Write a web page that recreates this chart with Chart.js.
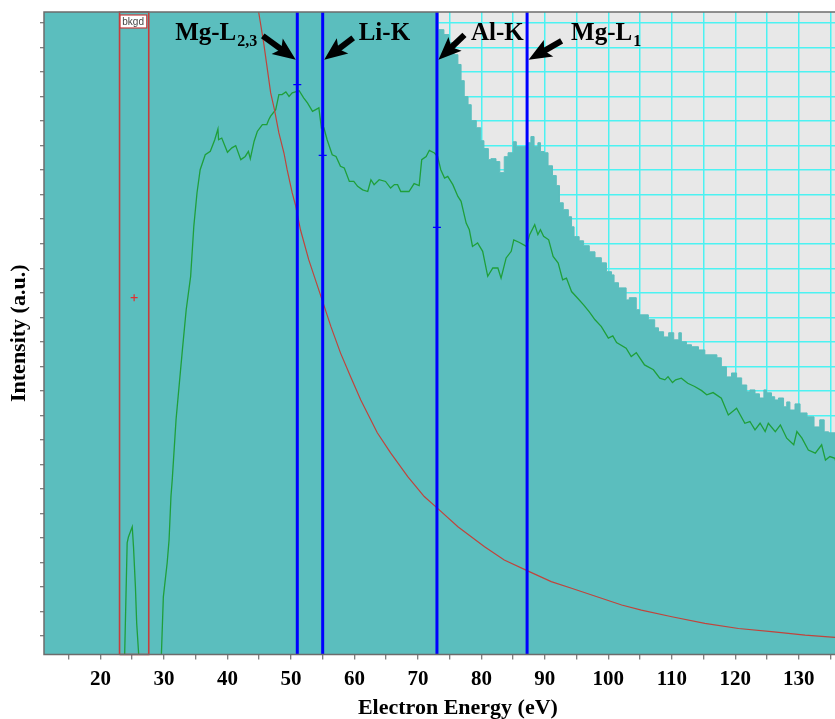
<!DOCTYPE html>
<html>
<head>
<meta charset="utf-8">
<title>EELS spectrum</title>
<script src="https://cdn.jsdelivr.net/npm/chart.js@4.4.1/dist/chart.umd.min.js"></script>
<style>
  html, body { margin: 0; padding: 0; overflow: hidden; background: #fff; }
  canvas { display: block; }
</style>
</head>
<body>
<canvas id="myChart" width="877" height="719"></canvas>
<script>
// axis ranges: energy in eV, intensity in arbitrary units
const xMin = 11.1, xMax = 141.5;
const yMin = -0.75, yMax = 25.45;
const xTicks = [15, 20, 25, 30, 35, 40, 45, 50, 55, 60, 65, 70, 75, 80, 85, 90, 95, 100, 105, 110, 115, 120, 125, 130, 135];
const xTickLabels = ['20', '30', '40', '50', '60', '70', '80', '90', '100', '110', '120', '130'];
const yTicks = [0, 1, 2, 3, 4, 5, 6, 7, 8, 9, 10, 11, 12, 13, 14, 15, 16, 17, 18, 19, 20, 21, 22, 23, 24, 25];

// raw spectrum (histogram, bin start energies); saturates above the frame below ~73 eV
const tealEnergy = [11.0, 73.2, 74.1, 74.9, 75.7, 76.3, 76.8, 77.3, 77.9, 78.4, 79.2, 79.9, 80.4, 81.1, 81.5, 82.3, 82.9, 83.6, 84.2, 85.0,
  85.5, 87.4, 87.8, 88.3, 88.9, 89.3, 89.9, 90.5, 91.2, 91.8, 92.3, 92.9, 93.7, 94.2, 94.6, 95.4, 96.1, 97.0, 97.9, 98.9,
  99.7, 100.5, 100.9, 101.6, 102.8, 103.3, 104.4, 104.9, 106.3, 107.3, 107.9, 108.7, 109.5, 110.3, 111.1, 111.5, 112.3, 113.1, 114.2, 115.2,
  117.1, 117.8, 118.6, 119.4, 120.2, 121.0, 121.8, 122.3, 123.1, 123.8, 124.5, 124.9, 125.7, 126.2, 126.8, 127.6, 128.1, 128.6, 129.4, 130.2,
  131.3, 132.4, 133.3, 134.0, 134.7, 136.5];
const tealCounts = [27.0, 24.73, 24.53, 24.2, 23.71, 23.31, 22.65, 22.0, 21.67, 21.02, 20.73, 20.2, 19.88, 19.43, 19.47, 19.35, 18.9, 19.55, 19.71, 20.16,
  19.96, 20.12, 20.37, 19.96, 20.12, 19.76, 19.71, 19.18, 18.78, 18.37, 17.67, 17.39, 17.1, 16.69, 16.29, 16.12, 15.92, 15.67, 15.43, 15.22,
  14.86, 14.73, 14.41, 14.2, 13.71, 13.8, 13.31, 13.1, 12.9, 12.57, 12.41, 12.2, 12.37, 12.08, 12.37, 12.0, 11.88, 11.8, 11.67, 11.47,
  11.35, 10.98, 10.57, 10.73, 10.53, 10.24, 9.96, 10.04, 9.88, 9.71, 10.04, 9.92, 9.76, 9.63, 9.71, 9.35, 9.55, 9.22, 9.47, 9.1,
  8.94, 8.53, 8.82, 8.33, 8.29, 8.29];

// background-subtracted signal
const signalEnergy = [23.7, 24.2, 24.4, 25.0, 25.2, 25.5, 25.7, 26.0, 26.3, 29.3, 29.6, 29.9, 30.5, 30.8, 31.1, 31.3, 31.9, 32.9, 33.5, 34.2,
  34.7, 35.2, 35.7, 36.5, 37.3, 38.0, 38.5, 38.6, 39.1, 40.0, 40.7, 41.3, 42.1, 42.8, 43.3, 43.6, 44.2, 44.7, 45.5, 46.2,
  46.5, 46.8, 47.6, 48.1, 48.6, 49.2, 49.7, 50.2, 50.7, 51.3, 52.0, 52.6, 53.4, 53.9, 54.4, 54.8, 55.2, 55.7, 56.5, 57.1,
  57.8, 58.4, 59.2, 59.9, 60.5, 61.3, 62.1, 62.6, 63.1, 63.9, 64.9, 65.7, 66.3, 66.8, 67.3, 68.6, 69.4, 70.2, 70.6, 71.3,
  71.8, 72.6, 73.1, 73.6, 74.2, 74.7, 75.5, 76.3, 76.8, 77.6, 78.1, 78.6, 79.4, 80.2, 81.0, 81.8, 82.6, 83.1, 83.9, 84.7,
  85.1, 86.0, 87.1, 87.6, 88.4, 88.9, 89.3, 89.8, 90.6, 91.3, 92.1, 92.8, 93.4, 94.2, 95.1, 96.1, 97.0, 97.9, 98.9, 100.0,
  100.7, 101.3, 102.8, 103.6, 104.4, 105.7, 107.1, 108.1, 108.9, 109.4, 110.1, 110.6, 111.5, 112.5, 113.6, 114.7, 115.5, 116.5, 117.8, 118.9,
  120.2, 121.5, 122.3, 123.1, 123.9, 124.7, 125.2, 126.3, 127.1, 128.1, 129.2, 129.7, 130.5, 131.5, 132.6, 133.6, 134.2, 134.9, 135.7, 136.0];
const signalCounts = [-2.0, 3.8, 4.04, 4.46, 3.64, 2.01, 0.53, -0.69, -2.0, -2.0, -0.69, 1.6, 2.98, 3.92, 5.69, 6.37, 8.82, 11.67, 13.31, 14.67,
  16.71, 18.07, 19.02, 19.63, 19.77, 20.24, 20.68, 20.24, 20.31, 19.73, 19.91, 20.0, 19.43, 19.56, 19.77, 19.47, 20.18, 20.58, 20.86, 20.86,
  21.06, 21.2, 21.47, 22.08, 22.08, 22.19, 22.01, 22.15, 22.19, 22.24, 21.95, 21.74, 21.4, 21.47, 21.54, 20.72, 20.72, 20.24, 19.63, 19.56,
  19.16, 19.09, 18.54, 18.54, 18.34, 18.2, 18.13, 18.61, 18.41, 18.61, 18.54, 18.27, 18.41, 18.41, 18.13, 18.13, 18.45, 18.37, 19.43, 19.56,
  19.81, 19.7, 19.56, 19.02, 18.68, 18.75, 18.41, 17.93, 17.73, 16.84, 16.57, 15.89, 16.03, 15.69, 14.67, 15.01, 15.01, 14.6, 15.42, 15.69,
  16.16, 16.05, 15.89, 16.37, 16.78, 16.37, 16.57, 16.3, 16.16, 15.48, 15.21, 14.53, 14.6, 14.05, 13.8, 13.51, 13.22, 12.9, 12.62, 12.15,
  12.24, 11.97, 11.74, 11.4, 11.56, 11.06, 10.86, 10.52, 10.45, 10.58, 10.34, 10.45, 10.52, 10.31, 10.18, 10.01, 9.84, 9.93, 9.7, 9.02,
  9.29, 8.68, 8.75, 8.41, 8.68, 8.34, 8.68, 8.34, 8.61, 8.07, 7.8, 8.34, 8.07, 7.59, 7.46, 7.8, 7.18, 7.32, 7.25, 6.91];

// power-law background fit
const fitEnergy = [44.2, 44.9, 45.7, 46.8, 47.4, 48.1, 48.9, 49.4, 50.2, 50.7, 51.5, 52.8, 54.2, 55.0, 56.3, 57.8, 59.4, 61.0, 63.6, 65.7,
  68.4, 71.0, 73.1, 76.3, 80.5, 83.6, 87.2, 91.0, 94.2, 102.1, 105.2, 110.0, 115.2, 120.5, 125.7, 131.0, 135.7, 136.2];
const fitCounts = [27.0, 25.47, 24.2, 22.16, 21.47, 20.52, 19.7, 19.02, 18.07, 17.59, 16.57, 15.35, 14.26, 13.64, 12.62, 11.55, 10.58, 9.63, 8.29, 7.47,
  6.5, 5.69, 5.21, 4.46, 3.64, 3.1, 2.67, 2.22, 1.95, 1.27, 1.06, 0.79, 0.52, 0.31, 0.18, 0.04, -0.05, -0.06];

// background fitting window and its centre marker
const bkgdWindow = [23.0, 27.6];
const bkgdCentre = 25.3, bkgdLevel = 13.8;

// edge markers
const edgeNames = ['Mg-L', 'Li-K', 'Al-K', 'Mg-L'];
const edgeSubscripts = ['2,3', '', '', '1'];
const edgeEnergies = [51.0, 55.0, 73.0, 87.2];
const edgeMarkLevels = [22.49, 19.6, 16.67, null];
const arrowLevel = 23.5;

const serif = "'Liberation Serif', 'Times New Roman', Times, serif";

// arrow geometry around each edge line, in pixels
const edgeLabelStyle = [
  {dir: -1, dx: -33, dy: -24, gap: 41},
  {dir: 1, dx: 29, dy: -22, gap: 36},
  {dir: 1, dx: 26, dy: -25, gap: 34},
  {dir: 1, dx: 33, dy: -19, gap: 44}
];

function pts(xs, ys) {
  return xs.map((v, i) => ({x: v, y: ys[i]}));
}

function drawArrow(ctx, x0, y0, x1, y1) {
  const a = Math.atan2(y1 - y0, x1 - x0);
  const c = Math.cos(a), s = Math.sin(a);
  const headLen = 20, headHalf = 9.5;
  const bx = x1 - headLen * c, by = y1 - headLen * s;
  ctx.save();
  ctx.strokeStyle = '#000';
  ctx.fillStyle = '#000';
  ctx.lineWidth = 6;
  ctx.beginPath();
  ctx.moveTo(x0, y0);
  ctx.lineTo(bx + 3 * c, by + 3 * s);
  ctx.stroke();
  ctx.beginPath();
  ctx.moveTo(x1, y1);
  ctx.lineTo(bx - 3 * c + headHalf * s, by - 3 * s - headHalf * c);
  ctx.lineTo(bx + 2 * c, by + 2 * s);
  ctx.lineTo(bx - 3 * c - headHalf * s, by - 3 * s + headHalf * c);
  ctx.closePath();
  ctx.fill();
  ctx.restore();
}

const overlay = {
  id: 'overlay',
  beforeDraw(chart) {
    const {ctx, chartArea: a} = chart;
    ctx.save();
    ctx.fillStyle = '#e8e8e8';
    ctx.fillRect(a.left, a.top, a.right - a.left, a.bottom - a.top);
    ctx.restore();
  },
  afterDatasetsDraw(chart) {
    const {ctx, chartArea: a, scales: {x, y}} = chart;
    ctx.save();

    // frame
    ctx.strokeStyle = '#6c6c6c';
    ctx.lineWidth = 1.5;
    ctx.beginPath();
    ctx.moveTo(a.right, a.top);
    ctx.lineTo(a.left, a.top);
    ctx.lineTo(a.left, a.bottom);
    ctx.lineTo(a.right, a.bottom);
    ctx.stroke();

    // tag on the background window
    const b0 = x.getPixelForValue(bkgdWindow[0]);
    const b1 = x.getPixelForValue(bkgdWindow[1]);
    ctx.fillStyle = '#fff';
    ctx.fillRect(b0 + 0.5, a.top + 3, b1 - b0 - 2.5, 13);
    ctx.strokeStyle = '#c83c3c';
    ctx.lineWidth = 1.2;
    ctx.strokeRect(b0 + 0.5, a.top + 3, b1 - b0 - 2.5, 13);
    ctx.fillStyle = '#444';
    ctx.font = "10px 'Liberation Sans', Arial, sans-serif";
    ctx.textAlign = 'center';
    ctx.textBaseline = 'middle';
    ctx.fillText('bkgd', (b0 + b1) / 2 - 1, a.top + 9.8);

    // edge arrows and labels
    const tipY = y.getPixelForValue(arrowLevel);
    ctx.textBaseline = 'alphabetic';
    ctx.textAlign = 'left';
    edgeEnergies.forEach((e, i) => {
      const st = edgeLabelStyle[i];
      const lx = x.getPixelForValue(e);
      const tipX = lx + st.dir * 1.5;
      drawArrow(ctx, tipX + st.dx, tipY + st.dy, tipX, tipY);

      const main = edgeNames[i], sub = edgeSubscripts[i];
      const mainFont = 'bold 25px ' + serif, subFont = 'bold 16px ' + serif;
      ctx.font = mainFont;
      const wMain = ctx.measureText(main).width;
      ctx.font = subFont;
      const wSub = sub ? ctx.measureText(sub).width : 0;
      const base = tipY - 20;
      const left = st.dir < 0 ? lx - st.gap - wMain - wSub : lx + st.gap;
      ctx.fillStyle = '#000';
      ctx.font = mainFont;
      ctx.fillText(main, left, base);
      if (sub) {
        ctx.font = subFont;
        ctx.fillText(sub, left + wMain + 1, base + 6);
      }
    });
    ctx.restore();
  }
};

const datasets = [
  {
    data: pts(tealEnergy, tealCounts),
    stepped: true,
    fill: 'start',
    backgroundColor: '#5bbebe',
    borderColor: '#5bbebe',
    borderWidth: 1,
    pointRadius: 0,
    order: 10
  },
  {
    data: pts(signalEnergy, signalCounts),
    borderColor: '#1f9f3a',
    borderWidth: 1.3,
    pointRadius: 0,
    clip: 0,
    order: 5
  },
  {
    data: pts(fitEnergy, fitCounts),
    borderColor: '#c0443c',
    borderWidth: 1.2,
    pointRadius: 0,
    clip: 0,
    order: 4
  },
  {
    data: [
      {x: bkgdWindow[0], y: yMin}, {x: bkgdWindow[0], y: yMax},
      {x: bkgdWindow[1], y: yMax}, {x: bkgdWindow[1], y: yMin},
      {x: bkgdWindow[0], y: yMin}
    ],
    borderColor: '#c83c3c',
    borderWidth: 1.6,
    pointRadius: 0,
    clip: 2,
    order: 3
  },
  {
    data: [{x: bkgdCentre, y: bkgdLevel}],
    showLine: false,
    pointStyle: 'cross',
    pointRadius: 3.5,
    borderColor: '#e03030',
    borderWidth: 1.2,
    order: 3
  },
  ...edgeEnergies.map(e => ({
    data: [{x: e, y: yMin}, {x: e, y: yMax}],
    borderColor: '#0000ff',
    borderWidth: 3,
    pointRadius: 0,
    clip: 0,
    order: 2
  })),
  {
    data: edgeEnergies.map((e, i) => ({x: e, y: edgeMarkLevels[i]})).filter(p => p.y !== null),
    showLine: false,
    pointStyle: 'line',
    pointRadius: 4,
    borderColor: '#0000ff',
    borderWidth: 1.2,
    order: 1
  }
];

const axisFont = {family: serif, weight: 'bold'};

const canvas = document.getElementById('myChart');
const chart = new Chart(canvas, {
  type: 'line',
  data: {datasets: datasets},
  options: {
    responsive: false,
    animation: false,
    events: [],
    layout: {padding: {top: 12, left: 0, right: 0, bottom: 0}},
    plugins: {
      legend: {display: false},
      tooltip: {enabled: false}
    },
    scales: {
      x: {
        type: 'linear',
        min: xMin,
        max: xMax,
        afterBuildTicks: s => { s.ticks = xTicks.map(v => ({value: v})); },
        afterFit: s => { s.height = 64.5; },
        ticks: {
          autoSkip: false,
          maxRotation: 0,
          minRotation: 0,
          padding: 7,
          color: '#000',
          font: {...axisFont, size: 21},
          callback: v => xTickLabels.includes(String(v)) ? String(v) : ''
        },
        grid: {color: '#4cf2f2', lineWidth: 1.5, tickColor: '#555', tickLength: 5, tickWidth: 1},
        border: {display: false},
        title: {
          display: true,
          text: 'Electron Energy (eV)',
          color: '#000',
          font: {...axisFont, size: 22, lineHeight: 1.0},
          padding: {top: 0, bottom: 0}
        }
      },
      y: {
        type: 'linear',
        min: yMin,
        max: yMax,
        afterBuildTicks: s => { s.ticks = yTicks.map(v => ({value: v})); },
        afterFit: s => { s.width = 44; },
        ticks: {display: false},
        grid: {color: '#4cf2f2', lineWidth: 1.5, tickColor: '#555', tickLength: 4, tickWidth: 1},
        border: {display: false},
        title: {
          display: true,
          text: 'Intensity (a.u.)',
          color: '#000',
          font: {...axisFont, size: 22, lineHeight: 1.0},
          padding: {top: 8, bottom: 0}
        }
      }
    }
  },
  plugins: [overlay]
});
</script>
</body>
</html>
